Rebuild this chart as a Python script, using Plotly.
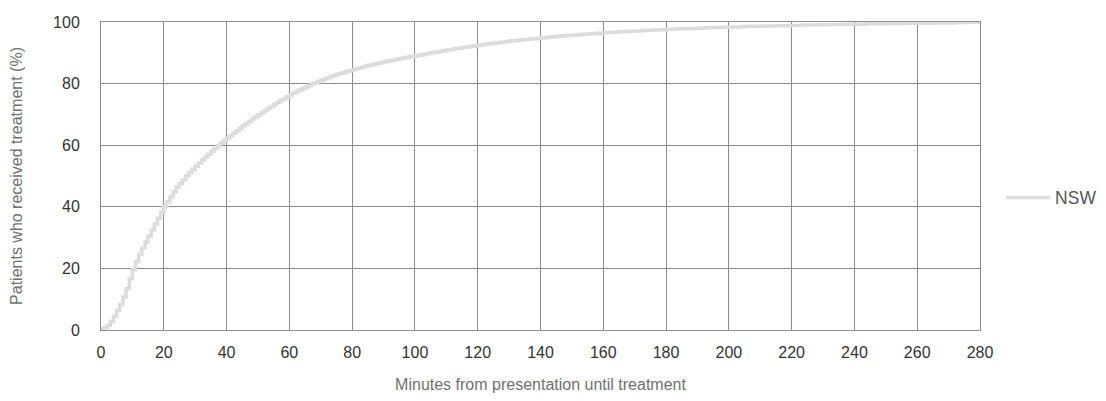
import plotly.graph_objects as go

minutes = list(range(0, 281))

pct_0_40 = [0.3, 0.8, 1.5, 2.8, 4.5, 6.3, 8.3, 10.7, 13.5, 16.6,
            19.6, 22.2, 24.5, 26.6, 28.6, 30.5, 32.5, 34.4, 36.3, 38.2,
            40.0, 41.7, 43.3, 44.9, 46.4, 47.6, 48.8, 50.0, 51.1, 52.2,
            53.2, 54.2, 55.2, 56.2, 57.1, 58.0, 58.9, 59.8, 60.7, 61.5]
pct_40_80 = [62.3, 63.1, 63.9, 64.7, 65.5, 66.3, 67.0, 67.8, 68.5, 69.2,
             69.9, 70.6, 71.3, 71.9, 72.6, 73.2, 73.9, 74.5, 75.1, 75.7,
             76.3, 76.9, 77.4, 77.9, 78.4, 78.9, 79.4, 79.9, 80.3, 80.7,
             81.1, 81.5, 81.9, 82.3, 82.6, 83.0, 83.3, 83.6, 83.9, 84.2]
pct_80_120 = [84.5, 84.8, 85.1, 85.4, 85.6, 85.9, 86.1, 86.4, 86.6, 86.8,
              87.1, 87.3, 87.5, 87.7, 87.9, 88.1, 88.3, 88.5, 88.7, 88.8,
              89.0, 89.2, 89.4, 89.6, 89.8, 90.0, 90.2, 90.3, 90.5, 90.7,
              90.9, 91.0, 91.2, 91.4, 91.5, 91.7, 91.8, 92.0, 92.1, 92.3]
pct_120_160 = [92.4, 92.6, 92.7, 92.9, 93.0, 93.1, 93.3, 93.4, 93.5, 93.6,
               93.8, 93.9, 94.0, 94.1, 94.2, 94.3, 94.4, 94.5, 94.6, 94.7,
               94.8, 94.9, 95.0, 95.1, 95.2, 95.3, 95.4, 95.5, 95.6, 95.6,
               95.7, 95.8, 95.9, 96.0, 96.0, 96.1, 96.2, 96.3, 96.3, 96.4]
pct_160_200 = [96.5, 96.5, 96.6, 96.7, 96.7, 96.8, 96.9, 96.9, 97.0, 97.0,
               97.1, 97.1, 97.2, 97.2, 97.3, 97.3, 97.4, 97.4, 97.5, 97.5,
               97.6, 97.6, 97.7, 97.7, 97.8, 97.8, 97.8, 97.9, 97.9, 98.0,
               98.0, 98.0, 98.1, 98.1, 98.1, 98.2, 98.2, 98.2, 98.3, 98.3]
pct_200_240 = [98.3, 98.4, 98.4, 98.4, 98.5, 98.5, 98.5, 98.6, 98.6, 98.6,
               98.6, 98.7, 98.7, 98.7, 98.7, 98.8, 98.8, 98.8, 98.8, 98.9,
               98.9, 98.9, 98.9, 99.0, 99.0, 99.0, 99.0, 99.0, 99.1, 99.1,
               99.1, 99.1, 99.1, 99.2, 99.2, 99.2, 99.2, 99.2, 99.3, 99.3]
pct_240_280 = [99.3, 99.3, 99.3, 99.3, 99.4, 99.4, 99.4, 99.4, 99.4, 99.4,
               99.5, 99.5, 99.5, 99.5, 99.5, 99.5, 99.5, 99.6, 99.6, 99.6,
               99.6, 99.6, 99.6, 99.6, 99.6, 99.7, 99.7, 99.7, 99.7, 99.7,
               99.7, 99.7, 99.8, 99.8, 99.8, 99.8, 99.9, 99.9, 99.9, 99.9,
               100.0]

nsw_pct = pct_0_40 + pct_40_80 + pct_80_120 + pct_120_160 + pct_160_200 + pct_200_240 + pct_240_280
n = min(len(minutes), len(nsw_pct))

x_ticks = list(range(0, 281, 20))
y_ticks = list(range(0, 101, 20))

fig = go.Figure()
fig.add_trace(go.Scatter(
    x=minutes[:n], y=nsw_pct[:n], mode="lines", name="NSW",
    line=dict(color="#dcdcdc", width=3.5, shape="hv"),
))

fig.update_layout(
    width=1098, height=393,
    margin=dict(l=93, r=126, t=14, b=71, autoexpand=False),
    paper_bgcolor="white", plot_bgcolor="white",
    font=dict(family="Liberation Sans, Arial, sans-serif", color="#333333", size=15),
    showlegend=True,
    legend=dict(x=1.024, y=0.43, xanchor="left", yanchor="middle", itemwidth=44,
                font=dict(size=17.5, color="#555555"), bgcolor="rgba(0,0,0,0)"),
    xaxis=dict(
        range=[0, 280], tickvals=x_ticks, ticktext=[str(v) for v in x_ticks],
        showgrid=True, gridcolor="#8c8c8c", gridwidth=1,
        showline=True, linecolor="#8c8c8c", linewidth=1, mirror=True,
        zeroline=False, ticks="outside", ticklen=8, tickcolor="rgba(0,0,0,0)",
        tickfont=dict(size=16, color="#333333"), automargin=False,
        title=dict(text="Minutes from presentation until treatment",
                   font=dict(size=16, color="#707070"), standoff=18),
    ),
    yaxis=dict(
        range=[0, 100], tickvals=y_ticks, ticktext=[str(v) for v in y_ticks],
        showgrid=True, gridcolor="#8c8c8c", gridwidth=1,
        showline=True, linecolor="#8c8c8c", linewidth=1, mirror=True,
        zeroline=False, ticks="outside", ticklen=17, tickcolor="rgba(0,0,0,0)",
        tickfont=dict(size=16, color="#333333"), automargin=False,
        title=dict(text="Patients who received treatment (%)",
                   font=dict(size=16, color="#707070"), standoff=33),
    ),
)

fig.write_html("out.html")
